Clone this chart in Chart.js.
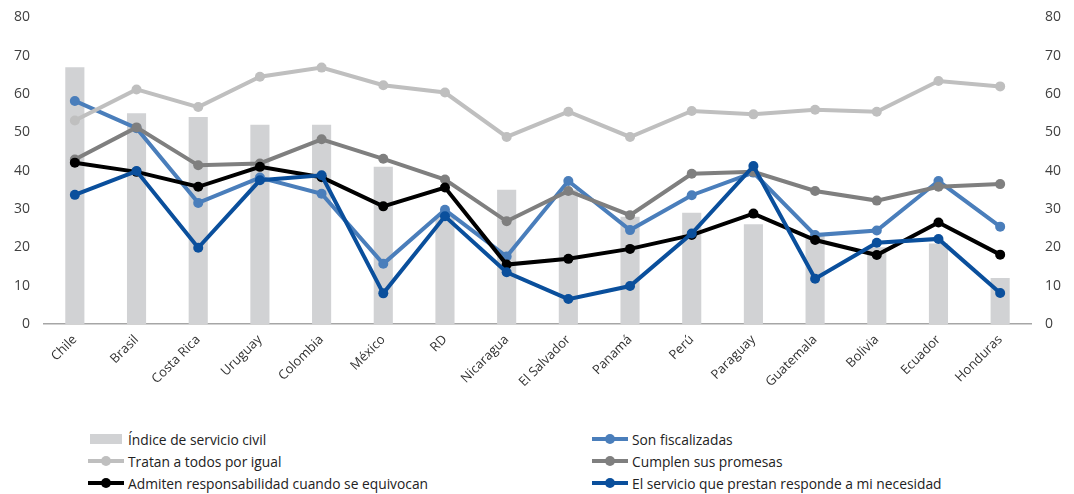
<!DOCTYPE html>
<html>
<head>
<meta charset="utf-8">
<script src="https://cdn.jsdelivr.net/npm/chart.js@4.4.1/dist/chart.umd.min.js"></script>
<style>
  html, body { margin: 0; padding: 0; background: #fff; overflow: hidden; }
  #wrap { position: relative; width: 1074px; height: 494px; overflow: hidden; }
  #box { position: absolute; left: 0; top: -5px; width: 1074px; height: 415px; }
  #legend { position: absolute; left: 0; top: 428px; width: 1074px; height: 66px; }
  .it { position: absolute; height: 22px; display: flex; align-items: center;
        font: 13.8px "Open Sans", sans-serif; color: #222; white-space: nowrap; }
  .sym { position: relative; width: 36px; height: 14px; margin-right: 4px; }
  .sym i { position: absolute; left: 0; right: 0; top: 5px; height: 4px; }
  .sym b { position: absolute; left: 13px; top: 2px; width: 10px; height: 10px; border-radius: 50%; }
  .sym.bar i { top: 2px; height: 10px; left: 2px; right: 2px; }
</style>
</head>
<body>
<div id="wrap">
  <div id="box"><canvas id="c"></canvas></div>
  <div id="legend"></div>
</div>
<script>
// países (eje x)
const paises = ['Chile', 'Brasil', 'Costa Rica', 'Uruguay', 'Colombia', 'México', 'RD', 'Nicaragua',
  'El Salvador', 'Panamá', 'Perú', 'Paraguay', 'Guatemala', 'Bolivia', 'Ecuador', 'Honduras'];

// barras: índice de servicio civil
const indiceServicioCivil = [67, 55, 54, 52, 52, 41, 28, 35, 35, 28, 29, 26, 23, 20, 21, 12];

// líneas (% de acuerdo)
const sonFiscalizadas = [58.2, 51.1, 31.6, 38.2, 34.0, 15.7, 29.8, 17.6, 37.3, 24.5, 33.6, 39.5, 23.2, 24.4, 37.3, 25.4];
const tratanIgual     = [53.1, 61.2, 56.6, 64.5, 66.9, 62.3, 60.4, 48.8, 55.4, 48.8, 55.6, 54.7, 55.9, 55.4, 63.4, 62.0];
const cumplenPromesas = [42.9, 51.3, 41.4, 41.9, 48.2, 43.1, 37.7, 26.8, 34.7, 28.4, 39.2, 39.7, 34.7, 32.2, 35.8, 36.5];
const admitenResp     = [42.1, 39.7, 35.8, 41.0, 38.3, 30.7, 35.6, 15.5, 17.0, 19.6, 23.2, 28.8, 21.9, 18.0, 26.5, 18.1];
const servicioNecesid = [33.7, 39.9, 19.9, 37.5, 38.8, 8.0, 28.1, 13.5, 6.5, 9.9, 23.6, 41.2, 11.8, 21.2, 22.2, 8.1];

const yTicks = [0, 10, 20, 30, 40, 50, 60, 70, 80];

const FONT = '"Open Sans", sans-serif';
const TXT = '#404040';

const linea = (label, data, color, order) => ({
  type: 'line', label, data, borderColor: color, backgroundColor: color,
  borderWidth: 4, pointRadius: 5, pointHoverRadius: 5, pointBorderWidth: 0,
  tension: 0, fill: false, order, yAxisID: 'y',
});

const datasets = [
  { type: 'bar', label: 'Índice de servicio civil', data: indiceServicioCivil, backgroundColor: '#D1D2D4',
    barPercentage: 0.62, categoryPercentage: 0.5, order: 10, yAxisID: 'y2' },
  linea('Son fiscalizadas', sonFiscalizadas, '#4A7EBB', 5),
  linea('Tratan a todos por igual', tratanIgual, '#BFBFBF', 4),
  linea('Cumplen sus promesas', cumplenPromesas, '#7F7F7F', 3),
  linea('Admiten responsabilidad cuando se equivocan', admitenResp, '#000000', 2),
  linea('El servicio que prestan responde a mi necesidad', servicioNecesid, '#0A4F9C', 1),
];

const ejeY = (pos) => ({
  position: pos, min: 0, max: 80,
  grid: { display: false, drawTicks: false }, border: { display: false },
  afterBuildTicks: (ax) => { ax.ticks = yTicks.map((v) => ({ value: v })); },
  afterFit: (ax) => { ax.width = pos === 'left' ? 44 : 43; },
  ticks: { color: TXT, padding: 14, font: { family: FONT, size: 14 } },
});

new Chart(document.getElementById('c'), {
  data: { labels: paises, datasets },
  options: {
    responsive: true, maintainAspectRatio: false, animation: false,
    layout: { padding: { top: 2, bottom: 0, left: 0, right: 0 } },
    plugins: { legend: { display: false }, tooltip: { enabled: false } },
    scales: {
      x: {
        offset: true,
        grid: { display: false, drawTicks: false },
        border: { display: true, color: '#A6A6A6', width: 1.5 },
        afterFit: (ax) => { ax.height = 86; },
        ticks: { color: '#333', padding: 8, minRotation: 45, maxRotation: 45, autoSkip: false, font: { family: FONT, size: 13 } },
      },
      y: ejeY('left'),
      y2: ejeY('right'),
    },
  },
});

// leyenda en dos columnas, construida con los datasets
const pos = [[88, 0], [592, 0], [88, 22], [592, 22], [88, 44], [592, 44]];
const leg = document.getElementById('legend');
datasets.forEach((d, n) => {
  const el = document.createElement('div');
  el.className = 'it';
  el.style.left = pos[n][0] + 'px';
  el.style.top = pos[n][1] + 'px';
  const col = d.type === 'bar' ? d.backgroundColor : d.borderColor;
  el.innerHTML = d.type === 'bar'
    ? `<span class="sym bar"><i style="background:${col}"></i></span>${d.label}`
    : `<span class="sym"><i style="background:${col}"></i><b style="background:${col}"></b></span>${d.label}`;
  leg.appendChild(el);
});
</script>
</body>
</html>
